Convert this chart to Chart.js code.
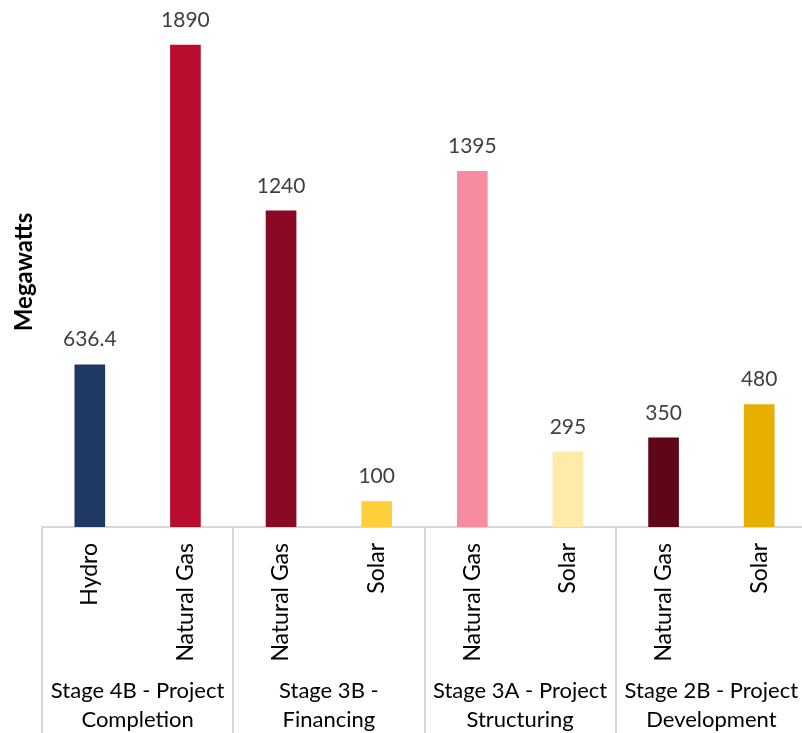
<!DOCTYPE html>
<html>
<head>
<meta charset="utf-8">
<script src="https://cdn.jsdelivr.net/npm/chart.js@4/dist/chart.umd.min.js"></script>
<style>
  html, body { margin: 0; padding: 0; background: #fff; overflow: hidden; }
  #wrap { width: 807px; height: 733px; }
</style>
</head>
<body>
<div id="wrap"><canvas id="mwChart" width="807" height="733"></canvas></div>
<script>
// Pipeline capacity by stage and fuel type
const stageNames = [
    ['Stage 4B - Project', 'Completion'],
    ['Stage 3B -', 'Financing'],
    ['Stage 3A - Project', 'Structuring'],
    ['Stage 2B - Project', 'Development']
];
const fuelTypes = ['Hydro', 'Natural Gas', 'Natural Gas', 'Solar', 'Natural Gas', 'Solar', 'Natural Gas', 'Solar'];
const fuelStage = [0, 0, 1, 1, 2, 2, 3, 3];
const megawatts = [636.4, 1890, 1240, 100, 1395, 295, 350, 480];
const barColors = ['#1f3864', '#ba0c2f', '#8a0a23', '#ffd03a', '#f78ba0', '#feebaa', '#5f0719', '#e7b000'];

const FONT = 'Lato, "Liberation Sans", sans-serif';
const GRID = '#d9d9d9';

// value labels above each bar
const valueLabels = {
    id: 'valueLabels',
    afterDatasetsDraw(chart) {
        const ctx = chart.ctx;
        const meta = chart.getDatasetMeta(0);
        ctx.save();
        ctx.fillStyle = '#404040';
        ctx.font = '21px ' + FONT;
        ctx.textAlign = 'center';
        ctx.textBaseline = 'middle';
        meta.data.forEach((bar, i) => {
            ctx.fillText(String(megawatts[i]), bar.x, bar.y - 25);
        });
        ctx.restore();
    }
};

// stage separators and stage names under the fuel labels
const stageAxis = {
    id: 'stageAxis',
    afterDraw(chart) {
        const ctx = chart.ctx;
        const x = chart.scales.x;
        const top = x.top, bottom = chart.height;
        ctx.save();
        ctx.strokeStyle = GRID;
        ctx.lineWidth = 2;
        const edges = [x.left];
        for (let i = 1; i < fuelTypes.length; i++) {
            if (fuelStage[i] !== fuelStage[i - 1]) {
                edges.push((x.getPixelForValue(i - 1) + x.getPixelForValue(i)) / 2);
            }
        }
        edges.push(x.right);
        edges.forEach(px => {
            const p = Math.round(px);
            ctx.beginPath();
            ctx.moveTo(p, top - 1);
            ctx.lineTo(p, bottom);
            ctx.stroke();
        });

        ctx.fillStyle = '#000';
        ctx.font = '22px ' + FONT;
        ctx.textAlign = 'center';
        ctx.textBaseline = 'middle';
        stageNames.forEach((lines, s) => {
            const idx = fuelStage.map((g, i) => g === s ? i : -1).filter(i => i >= 0);
            const cx = idx.reduce((a, i) => a + x.getPixelForValue(i), 0) / idx.length;
            lines.forEach((t, k) => ctx.fillText(t, cx, top + 164 + k * 29));
        });
        ctx.restore();
    }
};

const ctx = document.getElementById('mwChart').getContext('2d');
new Chart(ctx, {
    type: 'bar',
    data: {
        labels: fuelTypes,
        datasets: [{
            label: 'Megawatts',
            data: megawatts,
            backgroundColor: barColors,
            barThickness: 30
        }]
    },
    options: {
        responsive: false,
        animation: false,
        layout: { padding: { top: 17, left: 0, right: 0, bottom: 0 } },
        plugins: {
            legend: { display: false },
            tooltip: { enabled: false }
        },
        scales: {
            x: {
                grid: { display: false },
                border: { color: GRID, width: 2 },
                ticks: {
                    autoSkip: false,
                    maxRotation: 90,
                    minRotation: 90,
                    padding: 8,
                    color: '#000',
                    font: { family: FONT, size: 23 }
                },
                afterFit(scale) { scale.height = 206; }
            },
            y: {
                min: 0,
                max: 2000,
                grid: { display: false },
                border: { display: false },
                ticks: { display: false },
                title: {
                    display: true,
                    text: 'Megawatts',
                    color: '#000',
                    font: { family: FONT, size: 24, weight: 'bold' },
                    padding: { top: 10, bottom: 0 }
                },
                afterFit(scale) { scale.width = 42; }
            }
        }
    },
    plugins: [valueLabels, stageAxis]
});
</script>
</body>
</html>
